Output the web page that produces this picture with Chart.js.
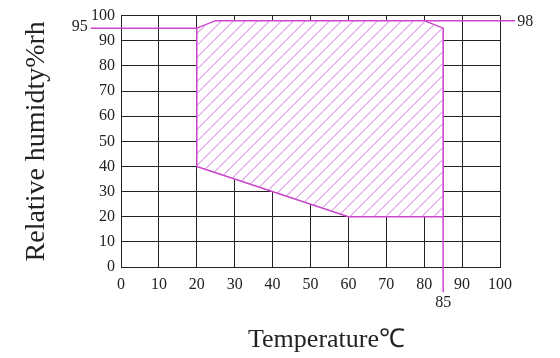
<!DOCTYPE html>
<html>
<head>
<meta charset="utf-8">
<script src="https://cdn.jsdelivr.net/npm/chart.js@4.4.0/dist/chart.umd.min.js"></script>
<style>
  html, body { margin: 0; padding: 0; background: #fff; }
</style>
</head>
<body>
<canvas id="myChart" width="560" height="358"></canvas>
<script>
// working region (temperature / humidity corners)
const regionTemp = [20, 20, 25, 80, 85, 85, 60, 20];
const regionRh = [40, 95, 98, 98, 95, 20, 20, 40];

// marker lines
const line95Temp = [-8, 20];
const line95Rh = [95, 95];
const line98Temp = [80, 104];
const line98Rh = [98, 98];
const line85Temp = [85, 85];
const line85Rh = [95, -10];
const markLabels = ["95", "98", "85"];

const xTitle = "Temperature\u2103";
const yTitle = "Relative humidty%rh";

const pink = "#cc44cc";
const hatchColor = "rgb(200, 110, 215)";
const ink = "#222";
const serif = "'Liberation Serif', 'Times New Roman', serif";

function toPoints(xs, ys) {
    return xs.map(function (v, i) { return { x: v, y: ys[i] }; });
}

function lineSet(xs, ys) {
    return {
        data: toPoints(xs, ys),
        showLine: true,
        borderColor: pink,
        borderWidth: 1.5,
        pointRadius: 0,
        fill: false,
        clip: false
    };
}

// diagonal hatching inside the region, clipped to the polygon the scales give
const hatchPlugin = {
    id: "hatch",
    afterDatasetDraw: function (chart, args) {
        if (args.index !== 0) return;
        const ctx = chart.ctx;
        const pts = args.meta.data;
        let minX = Infinity, maxX = -Infinity, minY = Infinity, maxY = -Infinity;
        ctx.save();
        ctx.beginPath();
        pts.forEach(function (p, i) {
            if (i === 0) ctx.moveTo(p.x, p.y); else ctx.lineTo(p.x, p.y);
            minX = Math.min(minX, p.x); maxX = Math.max(maxX, p.x);
            minY = Math.min(minY, p.y); maxY = Math.max(maxY, p.y);
        });
        ctx.closePath();
        ctx.clip();
        ctx.strokeStyle = hatchColor;
        ctx.lineWidth = 1;
        ctx.beginPath();
        const h = maxY - minY;
        for (let sx = minX - h; sx < maxX + 12; sx += 12) {
            ctx.moveTo(sx, maxY + 1);
            ctx.lineTo(sx + h + 2, minY - 1);
        }
        ctx.stroke();
        ctx.restore();
    }
};

const markPlugin = {
    id: "marks",
    afterDraw: function (chart) {
        const ctx = chart.ctx;
        const x = chart.scales.x;
        const y = chart.scales.y;
        ctx.save();
        ctx.fillStyle = ink;
        ctx.font = "16px " + serif;
        ctx.textBaseline = "middle";
        ctx.textAlign = "right";
        ctx.fillText(markLabels[0], x.getPixelForValue(line95Temp[0]) - 3, y.getPixelForValue(line95Rh[0]) - 1);
        ctx.textAlign = "left";
        ctx.fillText(markLabels[1], x.getPixelForValue(line98Temp[1]) + 2, y.getPixelForValue(line98Rh[1]) + 1);
        ctx.textAlign = "center";
        ctx.textBaseline = "top";
        ctx.fillText(markLabels[2], x.getPixelForValue(line85Temp[1]), y.getPixelForValue(line85Rh[1]) + 3);

        ctx.font = "26px " + serif;
        ctx.textBaseline = "middle";
        ctx.fillText(xTitle, (chart.chartArea.left + chart.chartArea.right) / 2 + 16, 340);
        ctx.restore();
    }
};

const data = {
    datasets: [
        {
            data: toPoints(regionTemp, regionRh),
            showLine: true,
            borderColor: pink,
            borderWidth: 1.5,
            backgroundColor: "#fff",
            pointRadius: 0,
            tension: 0,
            fill: "shape"
        },
        lineSet(line95Temp, line95Rh),
        lineSet(line98Temp, line98Rh),
        lineSet(line85Temp, line85Rh)
    ]
};

const config = {
    type: "scatter",
    data: data,
    options: {
        responsive: false,
        animation: false,
        layout: { padding: { top: 15, right: 60, left: 0, bottom: 0 } },
        plugins: {
            legend: { display: false },
            tooltip: { enabled: false }
        },
        scales: {
            x: {
                type: "linear",
                min: 0,
                max: 100,
                ticks: { stepSize: 10, padding: 8, color: ink, font: { family: serif, size: 16 } },
                grid: { color: ink, lineWidth: 1, drawTicks: false },
                border: { color: ink },
                afterFit: function (s) { s.height = 91; }
            },
            y: {
                type: "linear",
                min: 0,
                max: 100,
                ticks: { stepSize: 10, padding: 6, color: ink, font: { family: serif, size: 16 } },
                grid: { color: ink, lineWidth: 1, drawTicks: false },
                border: { color: ink },
                title: {
                    display: true,
                    text: yTitle,
                    color: ink,
                    font: { family: serif, size: 28 },
                    padding: { top: 20, bottom: 0 }
                },
                afterFit: function (s) { s.width = 121; }
            }
        }
    },
    plugins: [hatchPlugin, markPlugin]
};

const myChart = new Chart(document.getElementById("myChart"), config);
</script>
</body>
</html>
